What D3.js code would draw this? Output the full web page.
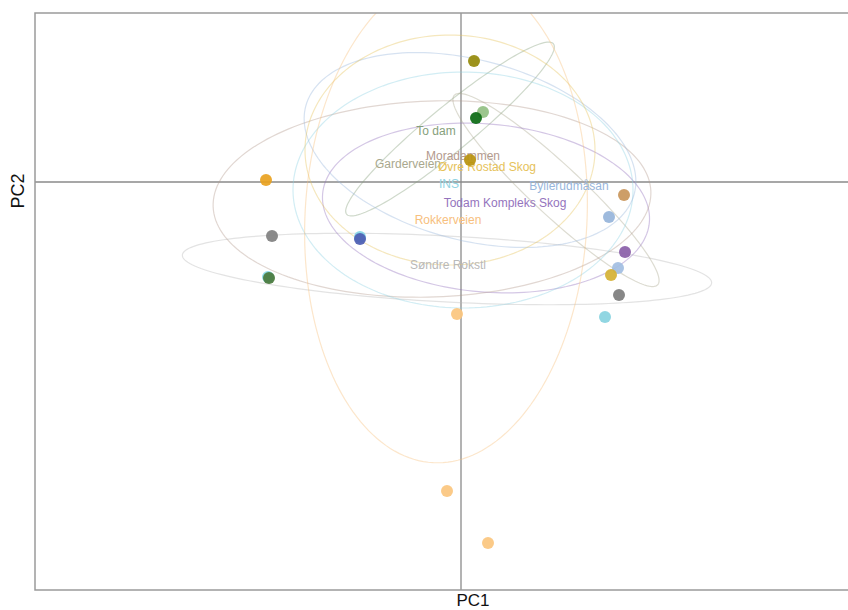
<!DOCTYPE html>
<html><head><meta charset="utf-8">
<script src="https://cdn.jsdelivr.net/npm/d3@7"></script>
<style>body{margin:0;background:#fff}svg{display:block}</style>
</head><body>
<svg id="chart" width="848" height="610"></svg>
<script>
// ---- data ----
const groupNames = ["To dam","Moradammen","Garderveien","Øvre Rostad Skog","INS","Byllerudmåsan","Todam Kompleks Skog","Rokkerveien","Søndre Rokstl"];
const groupColors = ["#86a07c","#b39a8e","#a9a88e","#e6c25a","#8fd3e3","#98b6dc","#9474bd","#f7c07e","#b9b9b9"];
const labelPC1 = [-0.25, 0.02, -0.53, 0.26, -0.12, 1.08, 0.44, -0.13, -0.13];
const labelPC2 = [0.51, 0.26, 0.18, 0.15, -0.02, -0.04, -0.21, -0.38, -0.83];

// ellipses: group index, centre, semi-axes, rotation (deg)
const ellGroup = [8, 0, 2, 6, 1, 4, 5, 3, 7];
const ellPC1   = [-0.14, -0.11, 0.95, 0.25, -0.29, 0.02, 0.09, -0.11, -0.15];
const ellPC2   = [-0.87, 0.53, -0.08, -0.26, -0.17, -0.08, 0.32, 0.32, -0.36];
const ellA     = [2.65, 1.34, 1.39, 1.64, 2.19, 1.70, 1.70, 1.45, 2.45];
const ellB     = [0.33, 0.22, 0.25, 0.84, 0.98, 1.18, 0.90, 1.15, 1.41];
const ellRot   = [-3, 39.5, -43, -5, 2, 0, -15, 0, 87];

// samples
const ptPC1 = [0.13, 0.22, 0.15, 0.09, -1.95, -1.89, -1.01, -1.01, -1.93, -1.92, 1.63, 1.48, 1.64, 1.57, 1.50, 1.58, 1.44, -0.04, -0.14, 0.27];
const ptPC2 = [1.21, 0.70, 0.64, 0.22, 0.02, -0.54, -0.55, -0.57, -0.95, -0.96, -0.13, -0.35, -0.70, -0.86, -0.93, -1.13, -1.35, -1.32, -3.09, -3.61];
const ptColor = ["#958a0a","#93c083","#0b6a12","#b8920e","#e9a21f","#808080","#86d6e6","#4d5db2","#86d6e6","#4a7a3c","#c9965b","#96b4da","#8a5ea8","#a2bee2","#d5b134","#7d7d7d","#88d2df","#fbc57e","#fbc57e","#fbc57e"];

// ---- layout ----
const svg = d3.select("#chart");
const mLeft = 35, mTop = 13, mBottom = 590, mRight = 860;
const x = d3.scaleLinear().domain([-4.26, 3.99]).range([mLeft, mRight]);
const y = d3.scaleLinear().domain([-4.08, 1.69]).range([mBottom, mTop]);

svg.append("defs").append("clipPath").attr("id","clip")
  .append("rect").attr("x", mLeft).attr("y", mTop).attr("width", mRight-mLeft).attr("height", mBottom-mTop);

const plot = svg.append("g").attr("clip-path","url(#clip)");

// zero lines
plot.append("line").attr("x1", x(0)).attr("x2", x(0)).attr("y1", mTop).attr("y2", mBottom)
  .attr("stroke","#8a8a8a").attr("stroke-width",1.3);
plot.append("line").attr("x1", mLeft).attr("x2", mRight).attr("y1", y(0)).attr("y2", y(0))
  .attr("stroke","#8a8a8a").attr("stroke-width",1.3);

// ellipses
const line = d3.line().x(d => x(d[0])).y(d => y(d[1])).curve(d3.curveLinearClosed);
ellGroup.forEach((g, i) => {
  const t = ellRot[i] * Math.PI / 180;
  const pts = d3.range(0, 360, 2).map(a => {
    const p = a * Math.PI / 180;
    const u = ellA[i] * Math.cos(p), v = ellB[i] * Math.sin(p);
    return [ellPC1[i] + u*Math.cos(t) - v*Math.sin(t), ellPC2[i] + u*Math.sin(t) + v*Math.cos(t)];
  });
  plot.append("path").attr("d", line(pts)).attr("fill","none")
    .attr("stroke", groupColors[g]).attr("stroke-opacity", 0.4).attr("stroke-width", 1.2);
});

// labels
groupNames.forEach((n, i) => {
  plot.append("text").attr("x", x(labelPC1[i])).attr("y", y(labelPC2[i]))
    .attr("text-anchor","middle").attr("dominant-baseline","central")
    .attr("font-family","Liberation Sans, Arial, sans-serif").attr("font-size", 12)
    .attr("fill", groupColors[i]).text(n);
});

// points
ptPC1.forEach((v, i) => {
  plot.append("circle").attr("cx", x(v)).attr("cy", y(ptPC2[i])).attr("r", 6)
    .attr("fill", ptColor[i]).attr("fill-opacity", 0.92);
});

// frame
svg.append("path").attr("d", `M${mRight},${mTop}H${mLeft}V${mBottom}H${mRight}`)
  .attr("fill","none").attr("stroke","#9a9a9a").attr("stroke-width",1.5);

// axis titles
svg.append("text").attr("x", 473).attr("y", 606).attr("text-anchor","middle")
  .attr("font-family","Liberation Sans, Arial, sans-serif").attr("font-size",17).attr("fill","#111").text("PC1");
svg.append("text").attr("transform","translate(24,191) rotate(-90)").attr("text-anchor","middle")
  .attr("font-family","Liberation Sans, Arial, sans-serif").attr("font-size",18).attr("fill","#111").text("PC2");
</script>
</body></html>
